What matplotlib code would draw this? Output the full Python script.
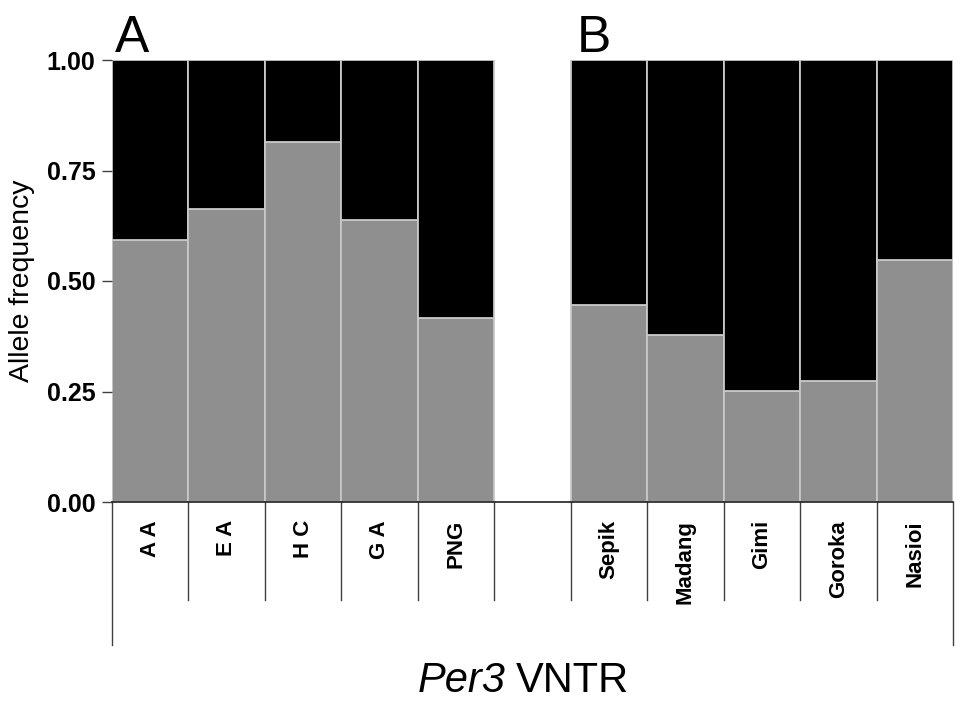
import matplotlib
matplotlib.use('Agg')
import matplotlib.pyplot as plt
import numpy as np

plt.rcParams['font.family'] = ['Liberation Sans', 'DejaVu Sans']

# populations (empty slot separates the two panels)
labels = ['A A', 'E A', 'H C', 'G A', 'PNG', '', 'Sepik', 'Madang', 'Gimi', 'Goroka', 'Nasioi']
freq = [0.593, 0.663, 0.814, 0.638, 0.416, None, 0.446, 0.378, 0.251, 0.274, 0.548]
yticks = [0.00, 0.25, 0.50, 0.75, 1.00]

fig = plt.figure(figsize=(9.69, 7.06), dpi=100)
ax = fig.add_axes([112/969, 1-502/706, (953-112)/969, 442/706])

edge = '#c8c8c8'
for i, f in enumerate(freq):
    if f is None:
        continue
    ax.bar(i + 0.5, f, width=1, color='#8f8f8f', edgecolor=edge, linewidth=1.3)
    ax.bar(i + 0.5, 1 - f, bottom=f, width=1, color='black', edgecolor=edge, linewidth=1.3)

ax.set_xlim(0, len(labels))
ax.set_ylim(0, 1)
ax.set_yticks(yticks)
ax.set_yticklabels(['%.2f' % t for t in yticks], fontsize=18, fontweight='bold')
ax.tick_params(axis='y', length=7, width=1, color='#404040', pad=5)
ax.set_xticks([])
for s in ['top', 'right', 'left']:
    ax.spines[s].set_visible(False)
ax.spines['bottom'].set_color('#202020')
ax.spines['bottom'].set_linewidth(1.2)
ax.set_ylabel('Allele frequency', fontsize=20.5, labelpad=8)

# category table below the axis
trans = ax.get_xaxis_transform()
for k in range(len(labels) + 1):
    low = -0.3235 if k in (0, len(labels)) else -0.222
    ax.plot([k, k], [0, low], color='#404040', lw=1, transform=trans, clip_on=False)
for i, lab in enumerate(labels):
    ax.text(i + 0.5, -0.041, lab, rotation=90, ha='center', va='top',
            fontsize=16, fontweight='bold', transform=trans)

fig.text(115/969, 1-52/706, 'A', fontsize=37, ha='left', va='baseline')
fig.text(577/969, 1-52/706, 'B', fontsize=37, ha='left', va='baseline')
fig.text(506/969, 1-692/706, 'Per3', fontsize=30, style='italic', ha='right', va='baseline')
fig.text(516/969, 1-692/706, 'VNTR', fontsize=30, ha='left', va='baseline')

fig.savefig('out.png', dpi=100)
